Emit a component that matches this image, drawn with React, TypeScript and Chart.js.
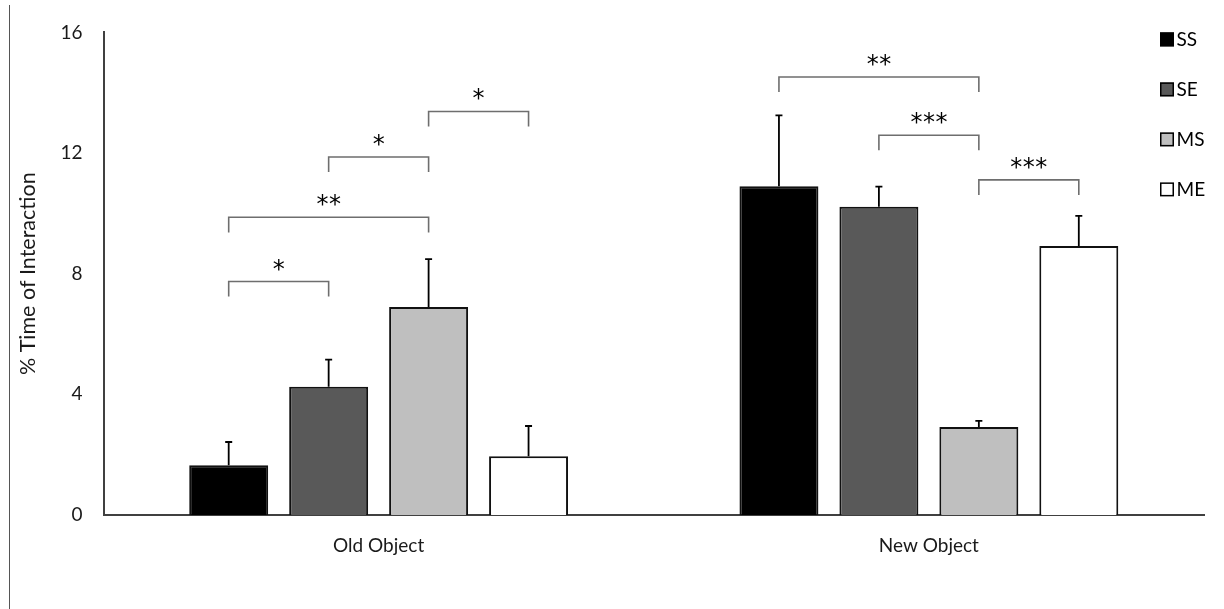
import React, { useEffect, useRef } from 'react';
import { Chart, registerables } from 'chart.js';

Chart.register(...registerables);

// ---- data ----
const categories = ['Old Object', 'New Object'];
const seriesNames = ['SS', 'SE', 'MS', 'ME'];
const ssValues = [1.65, 10.9];
const seValues = [4.25, 10.22];
const msValues = [6.9, 2.92];
const meValues = [1.95, 8.92];
const ssErrors = [0.77, 2.35];
const seErrors = [0.9, 0.67];
const msErrors = [1.58, 0.2];
const meErrors = [1.0, 1.0];
const yTickValues = [0, 4, 8, 12, 16];

// significance brackets
const bracketCategory = [0, 0, 0, 0, 1, 1, 1];
const bracketFrom = [0, 0, 1, 2, 0, 1, 2];
const bracketTo = [1, 2, 2, 3, 2, 2, 3];
const bracketLevel = [7.74, 9.87, 11.87, 13.38, 14.52, 12.59, 11.11];
const bracketLabel = ['*', '**', '*', '*', '**', '***', '***'];

const seriesValues = [ssValues, seValues, msValues, meValues];
const seriesErrors = [ssErrors, seErrors, msErrors, meErrors];
const seriesColors = ['#000000', '#595959', '#bfbfbf', '#ffffff'];

const FONT = 'Lato';
const TEXT_COLOR = '#1a1a1a';

const overlayPlugin = {
  id: 'overlay',
  afterDatasetsDraw(chart: any) {
    const ctx = chart.ctx as CanvasRenderingContext2D;
    const yScale = chart.scales.y;
    ctx.save();
    // error bars
    chart.data.datasets.forEach((ds: any, i: number) => {
      const meta = chart.getDatasetMeta(i);
      meta.data.forEach((bar: any, j: number) => {
        const errs = seriesErrors[i];
        const top = yScale.getPixelForValue(ds.data[j] + errs[j]);
        const x = bar.x;
        ctx.strokeStyle = '#000';
        ctx.lineWidth = 1.8;
        ctx.beginPath();
        ctx.moveTo(x, bar.y);
        ctx.lineTo(x, top);
        ctx.moveTo(x - 3.5, top);
        ctx.lineTo(x + 3.5, top);
        ctx.stroke();
      });
    });
    // brackets
    for (let k = 0; k < bracketLevel.length; k++) {
      const c = bracketCategory[k];
      const x1 = chart.getDatasetMeta(bracketFrom[k]).data[c].x;
      const x2 = chart.getDatasetMeta(bracketTo[k]).data[c].x;
      const yb = yScale.getPixelForValue(bracketLevel[k]);
      const yd = yScale.getPixelForValue(bracketLevel[k] - 0.5);
      ctx.strokeStyle = '#6e6e6e';
      ctx.lineWidth = 1.6;
      ctx.beginPath();
      ctx.moveTo(x1, yd);
      ctx.lineTo(x1, yb);
      ctx.lineTo(x2, yb);
      ctx.lineTo(x2, yd);
      ctx.stroke();
      // stars
      const label = bracketLabel[k];
      const n = label.length;
      const spacing = 12.5;
      const cx = (x1 + x2) / 2;
      const cy = yb - 17;
      ctx.font = "24px 'DejaVu Sans'";
      ctx.fillStyle = '#000';
      ctx.textAlign = 'center';
      ctx.textBaseline = 'alphabetic';
      const m = ctx.measureText('*');
      const base = cy + (m.actualBoundingBoxAscent - m.actualBoundingBoxDescent) / 2;
      for (let s = 0; s < n; s++) {
        ctx.fillText('*', cx + (s - (n - 1) / 2) * spacing, base);
      }
    }
    ctx.restore();
  },
  afterDraw(chart: any) {
    const ctx = chart.ctx as CanvasRenderingContext2D;
    const area = chart.chartArea;
    ctx.save();
    // legend
    chart.data.datasets.forEach((ds: any, i: number) => {
      const bx = area.right - 44;
      const by = area.top + 50 * i;
      ctx.fillStyle = ds.backgroundColor;
      ctx.fillRect(bx, by, 14, 14);
      ctx.strokeStyle = '#000';
      ctx.lineWidth = 1.5;
      ctx.strokeRect(bx + 0.75, by + 0.75, 12.5, 12.5);
      ctx.fillStyle = '#000';
      ctx.font = `19px ${FONT}`;
      ctx.textAlign = 'left';
      ctx.textBaseline = 'middle';
      ctx.fillText(ds.label, bx + 16.5, by + 7.5);
    });
    // left frame line of the original figure
    ctx.strokeStyle = '#555';
    ctx.lineWidth = 1;
    ctx.beginPath();
    ctx.moveTo(9.5, 5);
    ctx.lineTo(9.5, chart.height);
    ctx.stroke();
    ctx.restore();
  },
};

export default function App() {
  const canvasRef = useRef<HTMLCanvasElement | null>(null);

  useEffect(() => {
    if (!canvasRef.current) return;
    const chart = new Chart(canvasRef.current, {
      type: 'bar',
      data: {
        labels: categories,
        datasets: seriesNames.map((name, i) => ({
          label: name,
          data: seriesValues[i],
          backgroundColor: seriesColors[i],
          borderColor: '#111111',
          borderWidth: 2,
          categoryPercentage: 0.7266,
          barPercentage: 0.79,
        })),
      },
      options: {
        animation: false,
        responsive: true,
        maintainAspectRatio: false,
        layout: { padding: { top: 27, right: 20, bottom: 0, left: 15 } },
        plugins: {
          legend: { display: false },
          tooltip: { enabled: false },
        },
        scales: {
          x: {
            grid: { display: false, drawTicks: false },
            border: { display: true, color: '#404040', width: 2 },
            ticks: {
              color: TEXT_COLOR,
              font: { family: FONT, size: 19 },
              padding: 19,
            },
            afterFit: (scale: any) => {
              scale.height = 94;
            },
          },
          y: {
            min: 0,
            max: 16,
            afterBuildTicks: (scale: any) => {
              scale.ticks = yTickValues.map((v) => ({ value: v }));
            },
            grid: { display: false, drawTicks: false },
            border: { display: true, color: '#404040', width: 2 },
            ticks: {
              color: TEXT_COLOR,
              font: { family: FONT, size: 19 },
              padding: 21,
            },
            title: {
              display: true,
              text: '% Time of Interaction',
              color: TEXT_COLOR,
              font: { family: FONT, size: 21.5 },
              padding: 0,
            },
            afterFit: (scale: any) => {
              scale.width = 103.5 - 15;
            },
          },
        },
      },
      plugins: [overlayPlugin],
    });
    return () => chart.destroy();
  }, []);

  return (
    <div style={{ position: 'absolute', left: 0, top: 0, width: 1224, height: 609, background: '#fff' }}>
      <canvas ref={canvasRef} />
    </div>
  );
}
